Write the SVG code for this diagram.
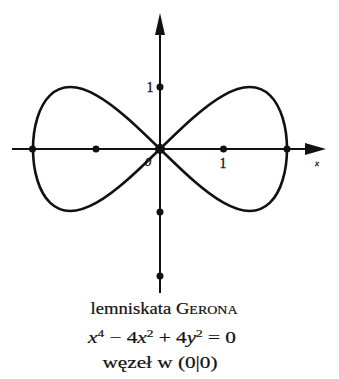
<svg xmlns="http://www.w3.org/2000/svg" width="339" height="379" viewBox="0 0 339 379">
<style>
.axis{stroke:#111;stroke-width:2;fill:none}
.curve{stroke:#111;stroke-width:2.6;fill:none;stroke-linejoin:round}
.dot{fill:#111}
.lbl{font-family:"Liberation Serif",serif;fill:#111;stroke:#111;stroke-width:0.3}
.cap{font-family:"Liberation Serif",serif;fill:#111;stroke:#111;stroke-width:0.2;font-size:16px;text-anchor:middle}
</style>
<defs>
<path id="lobe" d="M0,0 C11.08,10.82 22.16,21.63 32.87,31 C43.58,40.37 53.90,48.28 63.5,53.69 C73.10,59.10 81.96,62 89.80,62 C97.64,62 104.44,59.10 109.98,53.69 C115.52,48.28 119.80,40.37 122.67,31 C125.54,21.63 127,10.82 127,0 C127,-10.82 125.54,-21.63 122.67,-31 C119.80,-40.37 115.52,-48.28 109.98,-53.69 C104.44,-59.10 97.64,-62 89.80,-62 C81.96,-62 73.10,-59.10 63.5,-53.69 C53.90,-48.28 43.58,-40.37 32.87,-31 C22.16,-21.63 11.08,-10.82 0,0 Z"/>
</defs>
<g id="axes">
<line class="axis" x1="12" y1="149" x2="308" y2="149"/>
<polygon class="dot" points="326,149 305,143 305,155"/>
<line class="axis" x1="160" y1="32" x2="160" y2="293"/>
<polygon class="dot" points="160,13 155,35 165,35"/>
</g>
<g id="curve">
<g transform="translate(160,149) scale(1,-1)">
<use href="#lobe" class="curve"/>
<use href="#lobe" class="curve" transform="scale(-1,1)"/>
</g>
</g>
<g id="ticks">
<circle class="dot" cx="32.5" cy="149" r="3.5"/>
<circle class="dot" cx="96" cy="149" r="3.5"/>
<circle class="dot" cx="223.5" cy="149" r="3.5"/>
<circle class="dot" cx="287" cy="149" r="3.5"/>
<circle class="dot" cx="160" cy="87" r="3.5"/>
<circle class="dot" cx="160" cy="212" r="3.5"/>
<circle class="dot" cx="160" cy="276" r="3.5"/>
<circle class="dot" cx="160" cy="149" r="5"/>
</g>
<g id="labels">
<text class="lbl" x="150" y="92" font-size="14" text-anchor="middle">1</text>
<text class="lbl" x="223" y="168" font-size="14" text-anchor="middle">1</text>
<text class="lbl" x="148" y="166" font-size="13" text-anchor="middle" font-style="italic">0</text>
<text class="lbl" x="317" y="166" font-size="9" text-anchor="middle" font-style="italic" fill="#555" stroke="none">x</text>
</g>
<g id="caption">
<text class="cap" x="164" y="314" textLength="147" lengthAdjust="spacingAndGlyphs">lemniskata G<tspan font-size="12">ERONA</tspan></text>
<text class="cap" x="162" y="343" textLength="148" lengthAdjust="spacingAndGlyphs"><tspan font-style="italic">x</tspan><tspan font-size="10" dy="-6">4</tspan><tspan dy="6"> − 4</tspan><tspan font-style="italic">x</tspan><tspan font-size="10" dy="-6">2</tspan><tspan dy="6"> + 4</tspan><tspan font-style="italic">y</tspan><tspan font-size="10" dy="-6">2</tspan><tspan dy="6"> = 0</tspan></text>
<text class="cap" x="160" y="368" textLength="115" lengthAdjust="spacingAndGlyphs">węzeł w (0|0)</text>
</g>
</svg>
